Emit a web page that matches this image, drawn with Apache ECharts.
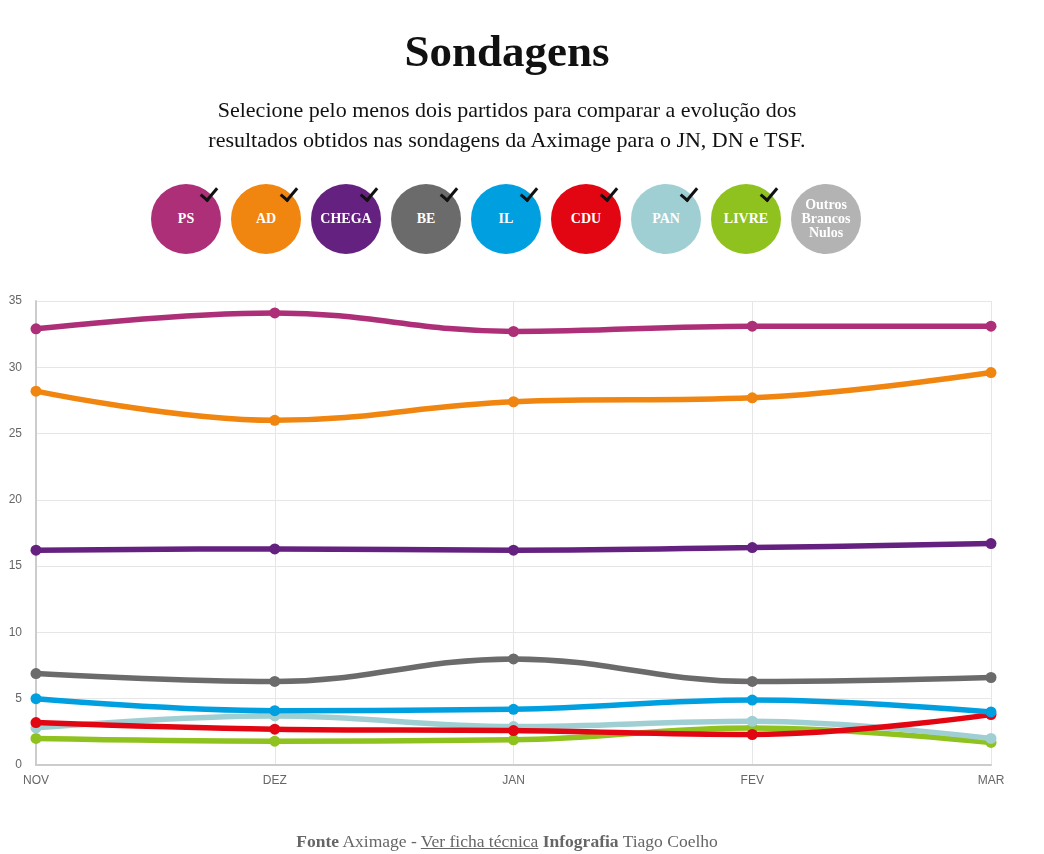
<!DOCTYPE html>
<html>
<head>
<meta charset="utf-8">
<script src="https://cdn.jsdelivr.net/npm/echarts@6/dist/echarts.min.js"></script>
<style>
  html, body { margin:0; padding:0; background:#fff; }
  body { width:1044px; height:854px; position:relative; overflow:hidden; font-family:"Liberation Serif","DejaVu Serif",serif; }
  #chart { position:absolute; left:0; top:0; width:1044px; height:854px; }
  #title { position:absolute; top:25px; left:0; width:1014px; text-align:center; font-size:45px; font-weight:bold; color:#111; }
  #sub { position:absolute; top:95px; left:0; width:1014px; text-align:center; font-size:22px; line-height:30px; color:#111; }
  .bub { position:absolute; top:184px; width:70px; height:70px; border-radius:50%; color:#fff; font-weight:bold; font-size:14px; display:flex; align-items:center; justify-content:center; text-align:center; line-height:14px; }
  .chk { position:absolute; left:53px; top:0px; width:7px; height:14px; border-right:3px solid #111; border-bottom:3px solid #111; transform:rotate(40deg); }
  #foot { position:absolute; top:831px; left:0; width:1014px; text-align:center; font-size:17.5px; color:#666; }
  #foot u { text-decoration:underline; }
</style>
</head>
<body>
<div id="chart"></div>
<div id="title">Sondagens</div>
<div id="sub">Selecione pelo menos dois partidos para comparar a evolução dos<br>resultados obtidos nas sondagens da Aximage para o JN, DN e TSF.</div>
<div id="bubbles"></div>
<div id="foot"><b>Fonte</b> Aximage - <u>Ver ficha técnica</u> <b>Infografia</b> Tiago Coelho</div>
<script>
const months = ["NOV", "DEZ", "JAN", "FEV", "MAR"];
const parties = ["PS", "AD", "CHEGA", "BE", "IL", "CDU", "PAN", "LIVRE"];
const colors = ["#ad2f77", "#f0850f", "#65217f", "#6b6b6b", "#00a0e0", "#e20613", "#9fcfd3", "#8fc21e"];
const PS    = [32.9, 34.1, 32.7, 33.1, 33.1];
const AD    = [28.2, 26.0, 27.4, 27.7, 29.6];
const CHEGA = [16.2, 16.3, 16.2, 16.4, 16.7];
const BE    = [6.9, 6.3, 8.0, 6.3, 6.6];
const IL    = [5.0, 4.1, 4.2, 4.9, 4.0];
const CDU   = [3.2, 2.7, 2.6, 2.3, 3.8];
const PAN   = [2.8, 3.7, 2.9, 3.3, 2.0];
const LIVRE = [2.0, 1.8, 1.9, 2.8, 1.7];
const seriesData = [PS, AD, CHEGA, BE, IL, CDU, PAN, LIVRE];

// bubbles (HTML)
const bubLabels = parties.concat(["Outros<br>Brancos<br>Nulos"]);
const bubColors = colors.concat(["#b3b3b3"]);
const bw = document.getElementById('bubbles');
bubLabels.forEach((l, i) => {
  const d = document.createElement('div');
  d.className = 'bub';
  d.style.left = (151 + i * 80) + 'px';
  d.style.background = bubColors[i];
  d.innerHTML = l + (i < 8 ? '<span class="chk"></span>' : '');
  bw.appendChild(d);
});

const chart = echarts.init(document.getElementById('chart'));
chart.setOption({
  animation: false,
  grid: { left: 36, right: 53, top: 301, bottom: 89 },
  xAxis: {
    type: 'category', data: months, boundaryGap: false,
    axisLine: { show: true, lineStyle: { color: '#cccccc', width: 2 } },
    axisTick: { show: false },
    axisLabel: { color: '#666', fontSize: 12, fontFamily: 'Liberation Sans, Arial', margin: 10 },
    splitLine: { show: true, lineStyle: { color: '#e6e6e6' } }
  },
  yAxis: {
    type: 'value', min: 0, max: 35, interval: 5,
    axisLine: { show: true, lineStyle: { color: '#cccccc', width: 2 } },
    axisTick: { show: false },
    axisLabel: { color: '#666', fontSize: 12, fontFamily: 'Liberation Sans, Arial', margin: 14 },
    splitLine: { show: true, lineStyle: { color: '#e6e6e6' } }
  },
  series: parties.map((p, i) => ({
    name: p, type: 'line', data: seriesData[i],
    smooth: 0.4, z: 20 - i,
    symbol: 'circle', symbolSize: 11,
    lineStyle: { color: colors[i], width: 5.5 },
    itemStyle: { color: colors[i] }
  }))
});
</script>
</body>
</html>
